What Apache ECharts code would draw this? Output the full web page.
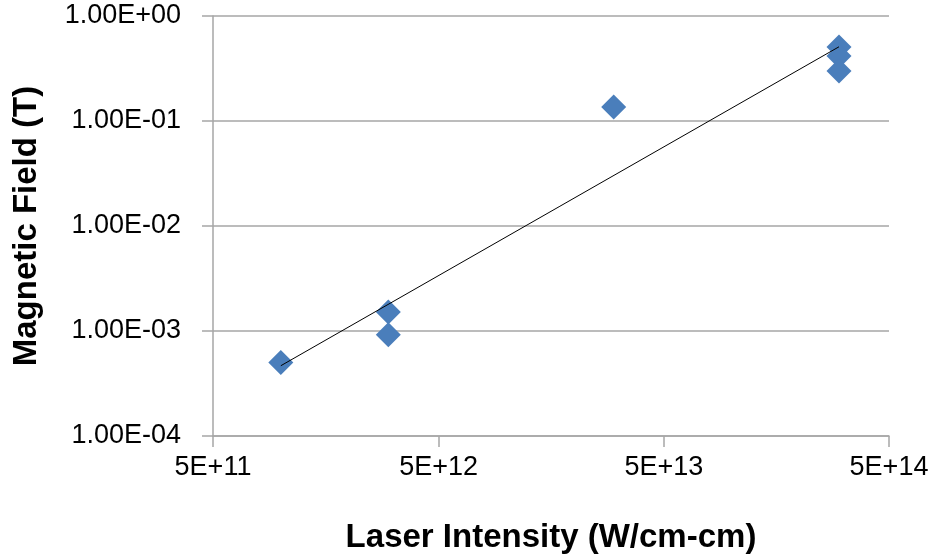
<!DOCTYPE html>
<html>
<head>
<meta charset="utf-8">
<script src="https://cdn.jsdelivr.net/npm/echarts@6/dist/echarts.min.js"></script>
<style>
  html, body { margin: 0; padding: 0; background: #fff; }
  #chart { width: 932px; height: 556px; }
</style>
</head>
<body>
<div id="chart"></div>
<script>
// Measured laser intensity (W/cm^2) and magnetic field (T)
const intensity = [1e12, 3e12, 3e12, 3e13, 3e14, 3e14, 3e14];
const field     = [5.0e-4, 1.52e-3, 9.2e-4, 0.136, 0.507, 0.416, 0.30];

const xTicks = [5e11, 5e12, 5e13, 5e14];
const yTicks = [1e-4, 1e-3, 1e-2, 1e-1, 1e0];

// Power-law trendline: least squares on log10(x), log10(y)
function powerFit(xs, ys) {
  const lx = xs.map(Math.log10), ly = ys.map(Math.log10);
  const n = lx.length;
  const mx = lx.reduce((a, b) => a + b, 0) / n;
  const my = ly.reduce((a, b) => a + b, 0) / n;
  let sxy = 0, sxx = 0;
  for (let i = 0; i < n; i++) {
    sxy += (lx[i] - mx) * (ly[i] - my);
    sxx += (lx[i] - mx) * (lx[i] - mx);
  }
  const b = sxy / sxx, a = my - b * mx;
  return x => Math.pow(10, a + b * Math.log10(x));
}
const fit = powerFit(intensity, field);
const xMin = Math.min(...intensity), xMax = Math.max(...intensity);
const trend = [[xMin, fit(xMin)], [xMax, fit(xMax)]];

function sci2(v) {
  const exp = Math.round(Math.log10(v));
  const m = v / Math.pow(10, exp);
  const s = exp < 0 ? '-' : '+';
  return m.toFixed(2) + 'E' + s + String(Math.abs(exp)).padStart(2, '0');
}
function sciX(v) {
  const exp = Math.floor(Math.log10(v) + 1e-9);
  const m = Math.round(v / Math.pow(10, exp));
  return m + 'E+' + exp;
}

const FONT = 'Liberation Sans';
const GRID = '#a6a6a6';
const chart = echarts.init(document.getElementById('chart'));
chart.setOption({
  animation: false,
  backgroundColor: '#fff',
  grid: { left: 213, right: 43, top: 16, bottom: 120, outerBoundsMode: 'none', containLabel: false },
  xAxis: {
    type: 'log',
    logBase: 10,
    min: xTicks[0],
    max: xTicks[xTicks.length - 1],
    interval: 1,
    name: 'Laser Intensity (W/cm-cm)',
    nameLocation: 'middle',
    nameGap: 85,
    nameTextStyle: { fontFamily: FONT, fontSize: 33, fontWeight: 'bold', color: '#000' },
    axisLine: { show: true, lineStyle: { color: GRID, width: 1.5 } },
    axisTick: { show: true, length: 11, lineStyle: { color: GRID, width: 1.5 } },
    axisLabel: { margin: 18, fontFamily: FONT, fontSize: 27, color: '#000', formatter: sciX },
    splitLine: { show: false },
    minorTick: { show: false }
  },
  yAxis: {
    type: 'log',
    logBase: 10,
    min: yTicks[0],
    max: yTicks[yTicks.length - 1],
    interval: 1,
    name: 'Magnetic Field (T)',
    nameLocation: 'middle',
    nameGap: 170,
    nameTextStyle: { fontFamily: FONT, fontSize: 33, fontWeight: 'bold', color: '#000' },
    axisLine: { show: true, onZero: false, lineStyle: { color: GRID, width: 1.5 } },
    axisTick: { show: true, length: 11, lineStyle: { color: GRID, width: 1.5 } },
    axisLabel: { margin: 32, fontFamily: FONT, fontSize: 27, color: '#000', formatter: sci2 },
    splitLine: { show: true, lineStyle: { color: GRID, width: 1.5 } }
  },
  series: [
    {
      type: 'line',
      data: trend,
      symbol: 'none',
      lineStyle: { color: '#000', width: 1 },
      z: 3
    },
    {
      type: 'scatter',
      data: intensity.map((x, i) => [x, field[i]]),
      symbol: 'diamond',
      symbolSize: 25,
      itemStyle: { color: '#4a7ebb', opacity: 1 },
      z: 2
    }
  ]
});
</script>
</body>
</html>
